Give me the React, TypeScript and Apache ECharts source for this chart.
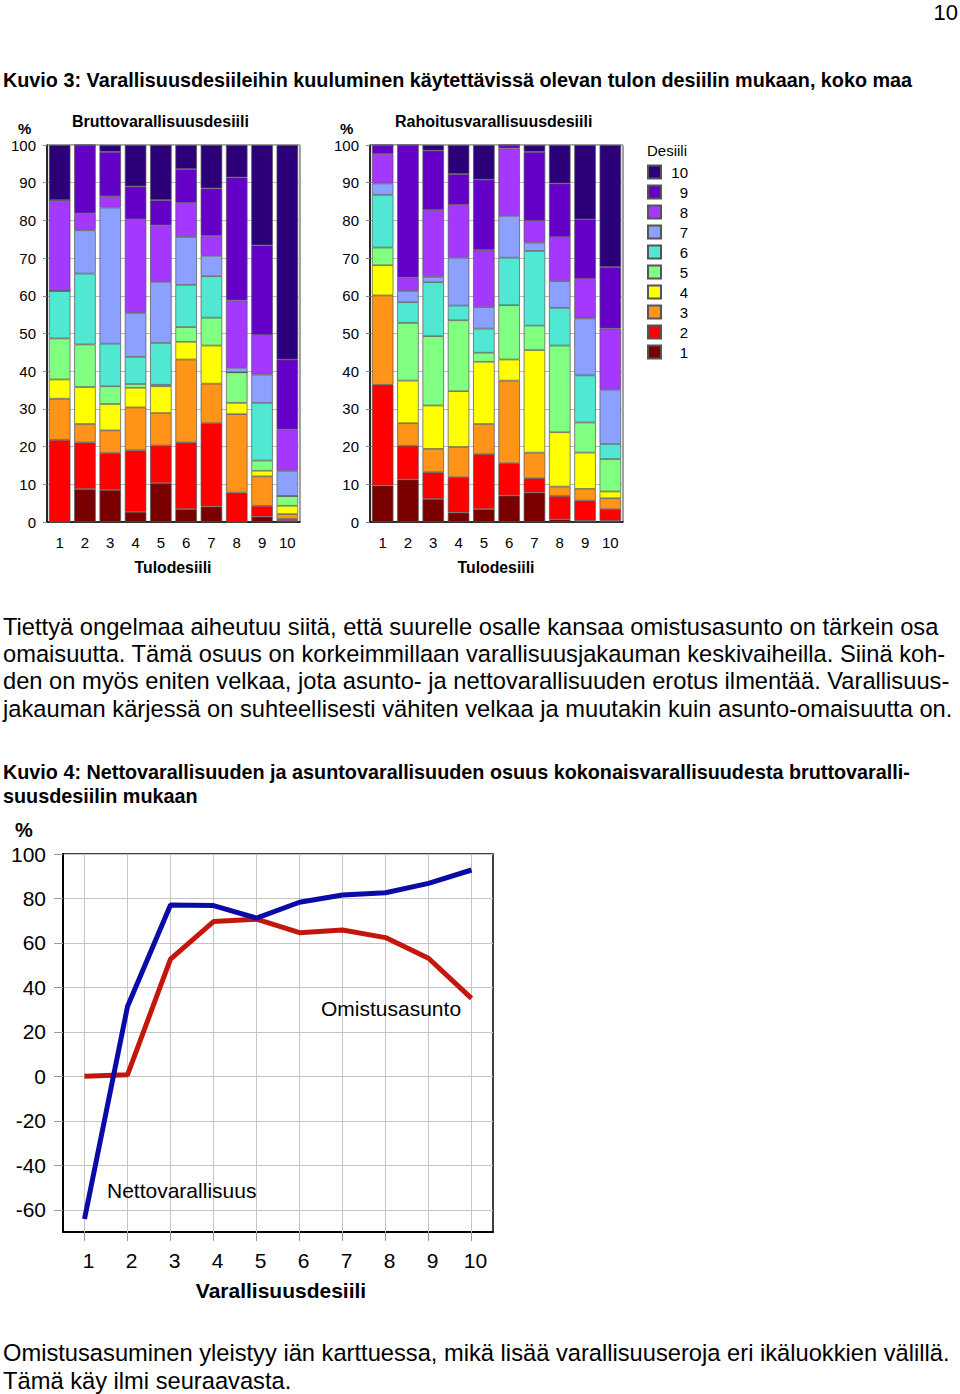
import React, { useEffect, useRef } from "react";
import * as echarts from "echarts";

const FONT = "'Liberation Sans', Arial, sans-serif";

// Income deciles (x-axis of the two stacked bar charts)
const incomeDeciles = ["1", "2", "3", "4", "5", "6", "7", "8", "9", "10"];
// Wealth decile names (stacked series), and legend order
const wealthDecileNames = ["1", "2", "3", "4", "5", "6", "7", "8", "9", "10"];
const legendOrder = ["10", "9", "8", "7", "6", "5", "4", "3", "2", "1"];
const decileColors = [
  "#7a0000", "#ff0000", "#ff9418", "#ffff00", "#80ff80",
  "#50e8d2", "#8ca0ff", "#a538ff", "#6400c8", "#2c0078",
];

// Bruttovarallisuusdesiili shares (%) by income decile 1..10
const bruttoD1 = [0, 8.7, 8.5, 2.7, 10.3, 3.4, 4.1, 0, 1.4, 0.3];
const bruttoD2 = [21.8, 12.4, 9.8, 16.3, 10.0, 17.7, 22.1, 7.8, 2.9, 0.5];
const bruttoD3 = [10.9, 4.9, 6.0, 11.4, 8.6, 22.0, 10.5, 20.8, 7.8, 1.3];
const bruttoD4 = [5.1, 9.8, 7.0, 5.2, 7.1, 4.7, 10.1, 3.0, 1.5, 2.2];
const bruttoD5 = [10.9, 11.3, 4.7, 1.0, 0.4, 3.9, 7.4, 8.1, 2.7, 2.6];
const bruttoD6 = [12.6, 18.8, 11.3, 7.2, 11.1, 11.2, 11.0, 0, 15.3, 0];
const bruttoD7 = [0, 11.5, 36.1, 11.7, 16.2, 12.7, 5.4, 1.2, 7.5, 6.7];
const bruttoD8 = [24.1, 4.5, 3.0, 24.8, 15.0, 9.0, 5.3, 17.9, 10.5, 10.9];
const bruttoD9 = [0, 18.1, 11.8, 8.7, 6.7, 9.0, 12.6, 32.6, 23.8, 18.6];
const bruttoD10 = [14.6, 0, 1.8, 11.0, 14.6, 6.4, 11.5, 8.6, 26.6, 56.9];

// Rahoitusvarallisuusdesiili shares (%) by income decile 1..10
const rahoitusD1 = [9.7, 11.3, 6.1, 2.5, 3.4, 7.0, 7.8, 0.7, 0.3, 0.3];
const rahoitusD2 = [26.7, 8.9, 7.1, 9.4, 14.6, 8.6, 3.8, 6.2, 5.4, 3.1];
const rahoitusD3 = [23.7, 6.0, 6.2, 8.0, 8.0, 21.9, 6.8, 2.5, 3.1, 2.9];
const rahoitusD4 = [8.0, 11.3, 11.5, 14.8, 16.5, 5.6, 27.2, 14.4, 9.6, 1.8];
const rahoitusD5 = [4.7, 15.3, 18.4, 18.8, 2.4, 14.4, 6.5, 23.0, 8.0, 8.6];
const rahoitusD6 = [14.0, 5.5, 14.3, 3.9, 6.4, 12.6, 19.8, 10.0, 12.5, 4.0];
const rahoitusD7 = [3.0, 3.0, 1.4, 12.7, 5.7, 11.1, 2.2, 7.1, 15.1, 14.4];
const rahoitusD8 = [7.8, 3.5, 17.7, 14.0, 15.1, 17.9, 5.8, 11.7, 10.4, 16.2];
const rahoitusD9 = [2.4, 35.2, 15.8, 8.2, 18.7, 0.9, 18.3, 14.2, 15.9, 16.3];
const rahoitusD10 = [0, 0, 1.5, 7.7, 9.2, 0, 1.8, 10.2, 19.7, 32.4];

const bruttoSeries = [bruttoD1, bruttoD2, bruttoD3, bruttoD4, bruttoD5, bruttoD6, bruttoD7, bruttoD8, bruttoD9, bruttoD10];
const rahoitusSeries = [rahoitusD1, rahoitusD2, rahoitusD3, rahoitusD4, rahoitusD5, rahoitusD6, rahoitusD7, rahoitusD8, rahoitusD9, rahoitusD10];

// Line chart: wealth deciles and shares (%)
const wealthDeciles = ["1", "2", "3", "4", "5", "6", "7", "8", "9", "10"];
const nettovarallisuus = [-64.2, 31.4, 77.1, 76.8, 71.2, 78.3, 81.6, 82.6, 86.8, 92.8];
const omistusasunto = [0, 0.7, 52.7, 69.6, 70.7, 64.6, 65.8, 62.4, 53.1, 35.1];

const barYTicks = { min: 0, max: 100, interval: 10 };

const paragraph1 = [
  "Tiettyä ongelmaa aiheutuu siitä, että suurelle osalle kansaa omistusasunto on tärkein osa",
  "omaisuutta. Tämä osuus on korkeimmillaan varallisuusjakauman keskivaiheilla. Siinä koh-",
  "den on myös eniten velkaa, jota asunto- ja nettovarallisuuden erotus ilmentää. Varallisuus-",
  "jakauman kärjessä on suhteellisesti vähiten velkaa ja muutakin kuin asunto-omaisuutta on.",
];
const kuvio4Title = [
  "Kuvio 4: Nettovarallisuuden ja asuntovarallisuuden osuus kokonaisvarallisuudesta bruttovaralli-",
  "suusdesiilin mukaan",
];
const paragraph2 = [
  "Omistusasuminen yleistyy iän karttuessa, mikä lisää varallisuuseroja eri ikäluokkien välillä.",
  "Tämä käy ilmi seuraavasta.",
];

function txt(text: string, x: number, y: number, size: number, opts: any = {}) {
  return {
    type: "text",
    silent: true,
    z: 10,
    style: {
      text,
      x,
      y,
      fontSize: size,
      fontFamily: FONT,
      fontWeight: opts.bold ? "bold" : "normal",
      fill: "#000",
      textAlign: opts.align || "left",
      textVerticalAlign: "middle",
    },
  };
}

export default function App() {
  const ref = useRef<HTMLDivElement>(null);

  useEffect(() => {
    if (!ref.current) return;
    const chart = echarts.init(ref.current, null, { renderer: "svg" });

    const barGrid = (left: number) => ({
      left,
      top: 145,
      width: 253,
      height: 377,
      show: true,
      borderColor: "#444",
      borderWidth: 1,
    });

    const barX = (gi: number) => ({
      type: "category",
      gridIndex: gi,
      data: incomeDeciles,
      axisLine: { show: true, onZero: false, lineStyle: { color: "#000", width: 1.5 } },
      axisTick: { show: false },
      axisLabel: { fontSize: 15, color: "#000", fontFamily: FONT, margin: 13 },
      splitLine: { show: false },
    });
    const barY = (gi: number) => ({
      type: "value",
      gridIndex: gi,
      ...barYTicks,
      axisLine: { show: true, lineStyle: { color: "#000", width: 1.5 } },
      axisTick: { show: true, length: 4, lineStyle: { color: "#888" } },
      axisLabel: { fontSize: 15, color: "#000", fontFamily: FONT, margin: 11 },
      splitLine: { show: true, lineStyle: { color: "#bbb", width: 1 } },
    });

    const makeBars = (data: number[][], gi: number, stack: string) =>
      data.map((vals, i) => ({
        type: "bar",
        name: wealthDecileNames[i],
        stack,
        xAxisIndex: gi,
        yAxisIndex: gi,
        data: vals,
        barCategoryGap: "15%",
        itemStyle: { color: decileColors[i], borderColor: "#555", borderWidth: 0.7 },
        emphasis: { disabled: true },
      }));

    const graphics: any[] = [
      txt("10", 958, 12, 22, { align: "right" }),
      txt("Kuvio 3: Varallisuusdesiileihin kuuluminen käytettävissä olevan tulon desiilin mukaan, koko maa", 3, 80, 19.8, { bold: true }),
      txt("%", 18, 128, 15, { bold: true }),
      txt("Bruttovarallisuusdesiili", 72, 121, 16, { bold: true }),
      txt("%", 340, 128, 15, { bold: true }),
      txt("Rahoitusvarallisuusdesiili", 395, 121, 16, { bold: true }),
      txt("Desiili", 647, 150, 15),
      txt("Tulodesiili", 173, 567, 15.8, { bold: true, align: "center" }),
      txt("Tulodesiili", 496, 567, 15.8, { bold: true, align: "center" }),
      ...paragraph1.map((l, i) => txt(l, 3, 627 + i * 27.2, 23.7)),
      ...kuvio4Title.map((l, i) => txt(l, 3, 772 + i * 24, 19.8, { bold: true })),
      txt("%", 15, 830, 20, { bold: true }),
      txt("Omistusasunto", 321, 1008, 21),
      txt("Nettovarallisuus", 107, 1190, 21),
      txt("Varallisuusdesiili", 281, 1290, 21, { bold: true, align: "center" }),
      ...paragraph2.map((l, i) => txt(l, 3, 1353 + i * 28, 23.7)),
    ];

    const option: any = {
      animation: false,
      backgroundColor: "#fff",
      textStyle: { fontFamily: FONT },
      grid: [
        barGrid(47),
        barGrid(370),
        {
          left: 63,
          top: 854,
          width: 430,
          height: 378,
          show: true,
          borderColor: "#000",
          borderWidth: 1.5,
        },
      ],
      xAxis: [
        barX(0),
        barX(1),
        {
          type: "category",
          gridIndex: 2,
          data: wealthDeciles,
          boundaryGap: true,
          axisLine: { show: true, onZero: false, lineStyle: { color: "#000", width: 2 } },
          axisTick: { show: true, alignWithLabel: true, length: 9, lineStyle: { color: "#999" } },
          axisLabel: { fontSize: 21, color: "#000", fontFamily: FONT, margin: 18, padding: [0, 0, 0, 8] },
          splitLine: { show: false },
        },
      ],
      yAxis: [
        barY(0),
        barY(1),
        {
          type: "value",
          gridIndex: 2,
          min: -70,
          max: 100,
          splitNumber: 8,
          minInterval: 20,
          maxInterval: 20,
          axisLine: { show: true, onZero: false, lineStyle: { color: "#000", width: 2 } },
          axisTick: { show: true, length: 9, lineStyle: { color: "#999" } },
          axisLabel: { fontSize: 21, color: "#000", fontFamily: FONT, margin: 17, showMinLabel: false },
          splitLine: { show: true, lineStyle: { color: "#c4c4c4", width: 1 } },
        },
      ],
      legend: {
        data: legendOrder,
        orient: "vertical",
        left: 647,
        top: 164.5,
        padding: 0,
        itemWidth: 13,
        itemHeight: 13,
        itemGap: 5,
        icon: "rect",
        selectedMode: false,
        formatter: (name: string) => "{r|" + name + "}",
        textStyle: {
          fontSize: 15,
          color: "#000",
          fontFamily: FONT,
          rich: { r: { width: 22, align: "right", fontSize: 15, fontFamily: FONT, color: "#000" } },
        },
      },
      series: [
        ...makeBars(bruttoSeries, 0, "brutto"),
        ...makeBars(rahoitusSeries, 1, "rahoitus"),
        {
          type: "line",
          name: "Omistusasunto",
          xAxisIndex: 2,
          yAxisIndex: 2,
          data: omistusasunto,
          showSymbol: false,
          symbol: "none",
          lineStyle: { color: "#c4170c", width: 5 },
          itemStyle: { color: "#c4170c" },
          z: 3,
          markLine: {
            silent: true,
            symbol: "none",
            label: { show: false },
            lineStyle: { color: "#c4c4c4", width: 1, type: "solid" },
            data: wealthDeciles.map((c) => ({ xAxis: c })),
            z: 1,
          },
        },
        {
          type: "line",
          name: "Nettovarallisuus",
          xAxisIndex: 2,
          yAxisIndex: 2,
          data: nettovarallisuus,
          showSymbol: false,
          symbol: "none",
          lineStyle: { color: "#0a0aa8", width: 5 },
          itemStyle: { color: "#0a0aa8" },
          z: 4,
        },
      ],
      graphic: graphics,
    };

    chart.setOption(option);
    return () => chart.dispose();
  }, []);

  return (
    <div
      ref={ref}
      style={{ position: "absolute", left: 0, top: 0, width: 960, height: 1394 }}
    />
  );
}
